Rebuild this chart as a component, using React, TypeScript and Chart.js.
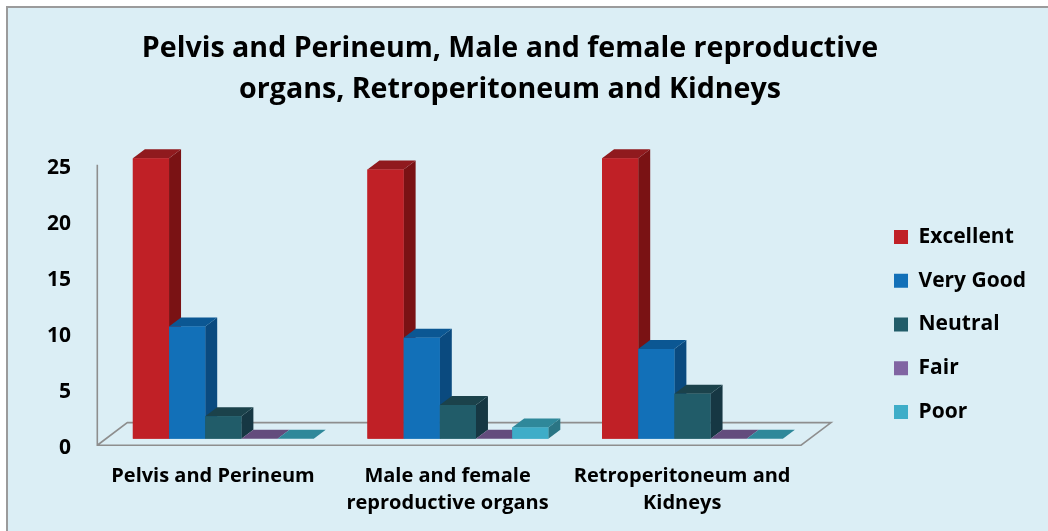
import React, { useEffect, useRef } from 'react';
import { Chart, registerables } from 'chart.js';

Chart.register(...registerables);

// ---- data ----
const titleLines = ['Pelvis and Perineum, Male and female reproductive', 'organs, Retroperitoneum and Kidneys'];
const categories = [['Pelvis and Perineum'], ['Male and female', 'reproductive organs'], ['Retroperitoneum and', 'Kidneys']];
const seriesNames = ['Excellent', 'Very Good', 'Neutral', 'Fair', 'Poor'];
const excellent = [25, 24, 25];
const veryGood = [10, 9, 8];
const neutral = [2, 3, 4];
const fair = [0, 0, 0];
const poor = [0, 1, 0];
const yTicks = [0, 5, 10, 15, 20, 25];

// ---- styles ----
const frontColors = ['#C02026', '#1270B8', '#215C69', '#8064A2', '#3EADC8'];
const topColors = ['#901A1E', '#0B5793', '#1B424B', '#634C7D', '#2F889A'];
const sideColors = ['#7A1214', '#0A4A7F', '#163743', '#553F6C', '#2A7584'];
const FONT = "'Open Sans'";
const DEPTH_X = 12;
const DEPTH_Y = 9;
const LEGEND_FONT = 21;
const LEGEND_GAP = 43.75 - LEGEND_FONT;
const PAD_LEFT = -16;
const PAD_RIGHT = 12;
const AREA_LEFT = 106;
const AREA_RIGHT = 809.5;
const LEGEND_BOX_X = 893.75;

const bgPlugin = {
  id: 'bgFrame',
  beforeDraw(chart: any) {
    const ctx = chart.ctx;
    ctx.save();
    ctx.fillStyle = '#FFFFFF';
    ctx.fillRect(0, 0, chart.width, chart.height);
    ctx.fillStyle = '#DBEEF5';
    ctx.fillRect(8, 8, chart.width - 8, chart.height - 8);
    ctx.strokeStyle = '#9B9B9B';
    ctx.lineWidth = 2;
    ctx.beginPath();
    ctx.moveTo(7, chart.height);
    ctx.lineTo(7, 7);
    ctx.lineTo(chart.width, 7);
    ctx.stroke();
    ctx.restore();
  },
};

const floorPlugin = {
  id: 'floor3d',
  beforeDatasetsDraw(chart: any) {
    const ctx = chart.ctx;
    const area = chart.chartArea;
    const y = chart.scales.y;
    const yZero = y.getPixelForValue(0);
    const yTop = y.getPixelForValue(yTicks[yTicks.length - 1]);
    const fx = -8.7, fy = 6.55; // front offset
    const bx = 21.3, by = -16.05; // back offset
    ctx.save();
    ctx.strokeStyle = '#8E8E8E';
    ctx.lineWidth = 1.6;
    ctx.beginPath();
    ctx.moveTo(area.left + fx, yTop + fy);
    ctx.lineTo(area.left + fx, yZero + fy);
    ctx.lineTo(area.right + fx, yZero + fy);
    ctx.lineTo(area.right + bx, yZero + by);
    ctx.lineTo(area.left + bx, yZero + by);
    ctx.lineTo(area.left + fx, yZero + fy);
    ctx.stroke();
    ctx.restore();
  },
};

const bar3dPlugin = {
  id: 'bar3d',
  afterDatasetsDraw(chart: any) {
    const ctx = chart.ctx;
    const n = chart.data.datasets.length;
    for (let d = 0; d < n; d++) {
      const meta = chart.getDatasetMeta(d);
      meta.data.forEach((el: any) => {
        const { x, y, base, width } = el.getProps(['x', 'y', 'base', 'width'], true);
        const left = x - width / 2;
        const right = x + width / 2;
        const top = Math.min(y, base);
        const bottom = Math.max(y, base);
        ctx.save();
        if (bottom - top > 0.5) {
          ctx.fillStyle = sideColors[d];
          ctx.beginPath();
          ctx.moveTo(right, top);
          ctx.lineTo(right + DEPTH_X, top - DEPTH_Y);
          ctx.lineTo(right + DEPTH_X, bottom - DEPTH_Y);
          ctx.lineTo(right, bottom);
          ctx.closePath();
          ctx.fill();
        }
        ctx.fillStyle = topColors[d];
        ctx.beginPath();
        ctx.moveTo(left, top);
        ctx.lineTo(right, top);
        ctx.lineTo(right + DEPTH_X, top - DEPTH_Y);
        ctx.lineTo(left + DEPTH_X, top - DEPTH_Y);
        ctx.closePath();
        ctx.fill();
        ctx.restore();
        el.draw(ctx, chart.chartArea);
      });
    }
  },
};

export default function App() {
  const ref = useRef<HTMLCanvasElement | null>(null);

  useEffect(() => {
    if (!ref.current) return;
    const values = [excellent, veryGood, neutral, fair, poor];
    const yPadWidth = LEGEND_BOX_X - LEGEND_GAP - AREA_RIGHT;
    const legendWidth = 1048 - PAD_RIGHT - (AREA_RIGHT + yPadWidth);
    const chart = new Chart(ref.current, {
      type: 'bar',
      data: {
        labels: categories as any,
        datasets: seriesNames.map((name, i) => ({
          label: name,
          data: values[i],
          backgroundColor: frontColors[i],
          borderWidth: 0,
          categoryPercentage: 0.771,
          barPercentage: 1,
        })),
      },
      options: {
        responsive: false,
        animation: false,
        layout: { padding: { left: PAD_LEFT, right: PAD_RIGHT, top: 0, bottom: 0 } },
        plugins: {
          title: {
            display: true,
            text: titleLines,
            color: '#000',
            font: { family: FONT, weight: 'bold', size: 28.6, lineHeight: 41 / 28.6 },
            padding: { top: 28, bottom: 48.3 },
          },
          legend: {
            display: true,
            position: 'right',
            fullSize: true,
            maxWidth: legendWidth,
            align: 'start',
            title: {
              display: true,
              text: '',
              font: { size: 10, lineHeight: 1 },
              padding: { top: 226.5 - LEGEND_GAP - 10, bottom: 0 },
            },
            labels: {
              boxWidth: 14,
              boxHeight: 14,
              padding: LEGEND_GAP,
              color: '#000',
              font: { family: FONT, weight: 'bold', size: LEGEND_FONT },
            },
          },
          tooltip: { enabled: false },
        },
        scales: {
          x: {
            grid: { display: false, drawTicks: false },
            border: { display: false },
            ticks: {
              padding: 23.5,
              labelOffset: -10.3,
              maxRotation: 0,
              minRotation: 0,
              autoSkip: false,
              color: '#000',
              font: { family: FONT, weight: 'bold', size: 20, lineHeight: 27.5 / 20 },
            },
            afterFit: (s: any) => { s.height = 92.3; },
          },
          y: {
            min: 0,
            max: 25,
            grid: { display: false, drawTicks: false },
            border: { display: false },
            ticks: {
              padding: 35,
              labelOffset: 9.5,
              color: '#000',
              font: { family: FONT, weight: 'bold', size: 21 },
            },
            afterBuildTicks: (s: any) => { s.ticks = yTicks.map((v) => ({ value: v })); },
            afterFit: (s: any) => { s.width = AREA_LEFT - PAD_LEFT; },
          },
          yPad: {
            type: 'linear',
            axis: 'y',
            position: 'right',
            display: true,
            grid: { display: false, drawTicks: false },
            border: { display: false },
            ticks: { display: false },
            afterFit: (s: any) => { s.width = yPadWidth; },
          },
        },
      } as any,
      plugins: [bgPlugin, floorPlugin, bar3dPlugin],
    });
    return () => chart.destroy();
  }, []);

  return (
    <div style={{ position: 'absolute', left: 0, top: 0, width: 1048, height: 531 }}>
      <canvas ref={ref} width={1048} height={531} style={{ display: 'block', width: 1048, height: 531 }} />
    </div>
  );
}
